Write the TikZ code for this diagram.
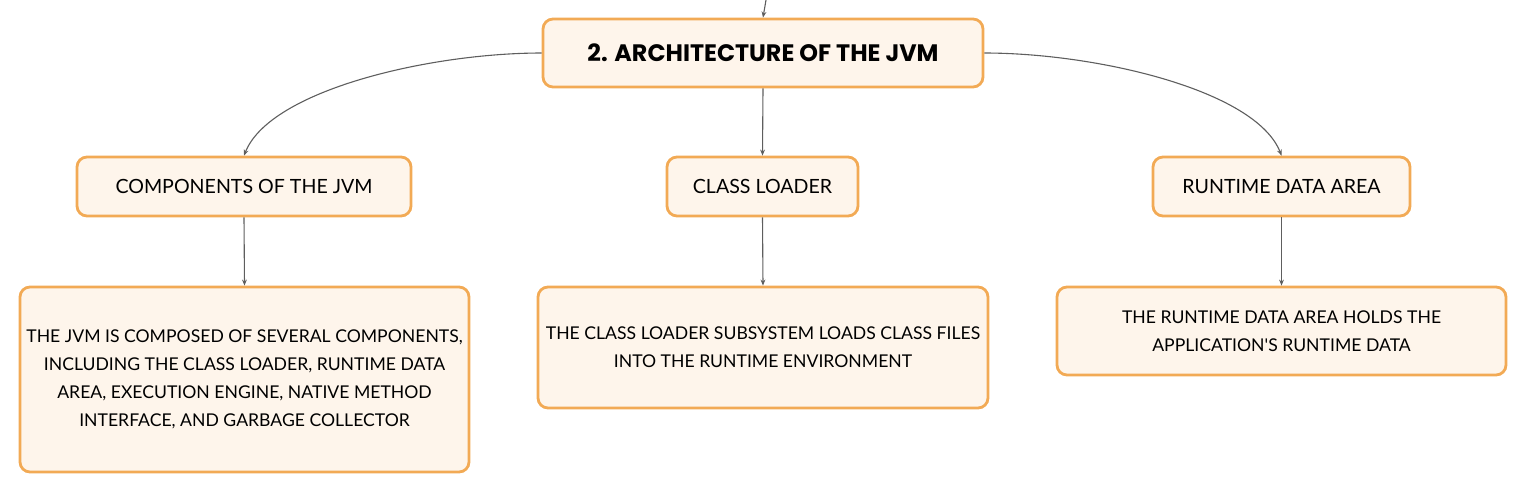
\documentclass[tikz,border=0pt]{standalone}
\usepackage{fontspec}
\newfontfamily\bodyfont{Lato}
\newfontfamily\titlefont{Poppins}
\usetikzlibrary{arrows.meta}
\definecolor{boxline}{HTML}{F2AA55}
\definecolor{boxfill}{HTML}{FEF5EB}
\definecolor{conn}{HTML}{5E5E5E}
\tikzset{
  box/.style={draw=boxline, fill=boxfill, line width=1.4pt, rounded corners=5pt, align=center, inner sep=0pt},
  headbox/.style={box, font=\bodyfont\fontsize{9.8}{12}\selectfont},
  descbox/.style={box, font=\bodyfont\fontsize{8.8}{14}\selectfont},
  titlebox/.style={box, font=\titlefont\bfseries\fontsize{11.9}{14}\selectfont},
  link/.style={draw=conn, line width=0.55pt, -{Stealth[length=3pt,width=2.4pt]}}
}
\begin{document}
\begin{tikzpicture}[x=0.5pt,y=-0.5pt]
\useasboundingbox (0,0) rectangle (1527,494);
\coordinate (top) at (766,0);
\node[titlebox, minimum width=220pt, minimum height=34pt] (title) at (763,53) {2. ARCHITECTURE OF THE JVM};
\node[headbox, minimum width=167pt, minimum height=29.5pt] (comp) at (244,186.5) {COMPONENTS OF THE JVM};
\node[headbox, minimum width=95.5pt, minimum height=29.5pt] (cl) at (762.5,186.5) {CLASS LOADER};
\node[headbox, minimum width=128.5pt, minimum height=29.5pt] (rda) at (1281.5,186.5) {RUNTIME DATA AREA};
\node[descbox, minimum width=224.5pt, minimum height=92.5pt] (d1) at (244.5,379.5) {THE JVM IS COMPOSED OF SEVERAL COMPONENTS,\\INCLUDING THE CLASS LOADER, RUNTIME DATA\\AREA, EXECUTION ENGINE, NATIVE METHOD\\INTERFACE, AND GARBAGE COLLECTOR};
\node[descbox, minimum width=225pt, minimum height=60.5pt] (d2) at (763,347.5) {THE CLASS LOADER SUBSYSTEM LOADS CLASS FILES\\INTO THE RUNTIME ENVIRONMENT};
\node[descbox, minimum width=224.5pt, minimum height=44pt] (d3) at (1281.5,331) {THE RUNTIME DATA AREA HOLDS THE\\APPLICATION'S RUNTIME DATA};
\draw[link] (top) -- (title.north);
\draw[link] (title.west) .. controls (430,53) and (270,90) .. (comp.north);
\draw[link] (title.south) -- (cl.north);
\draw[link] (title.east) .. controls (1096,53) and (1256,90) .. (rda.north);
\draw[link] (comp.south) -- (d1.north);
\draw[link] (cl.south) -- (d2.north);
\draw[link] (rda.south) -- (d3.north);
\end{tikzpicture}
\end{document}
